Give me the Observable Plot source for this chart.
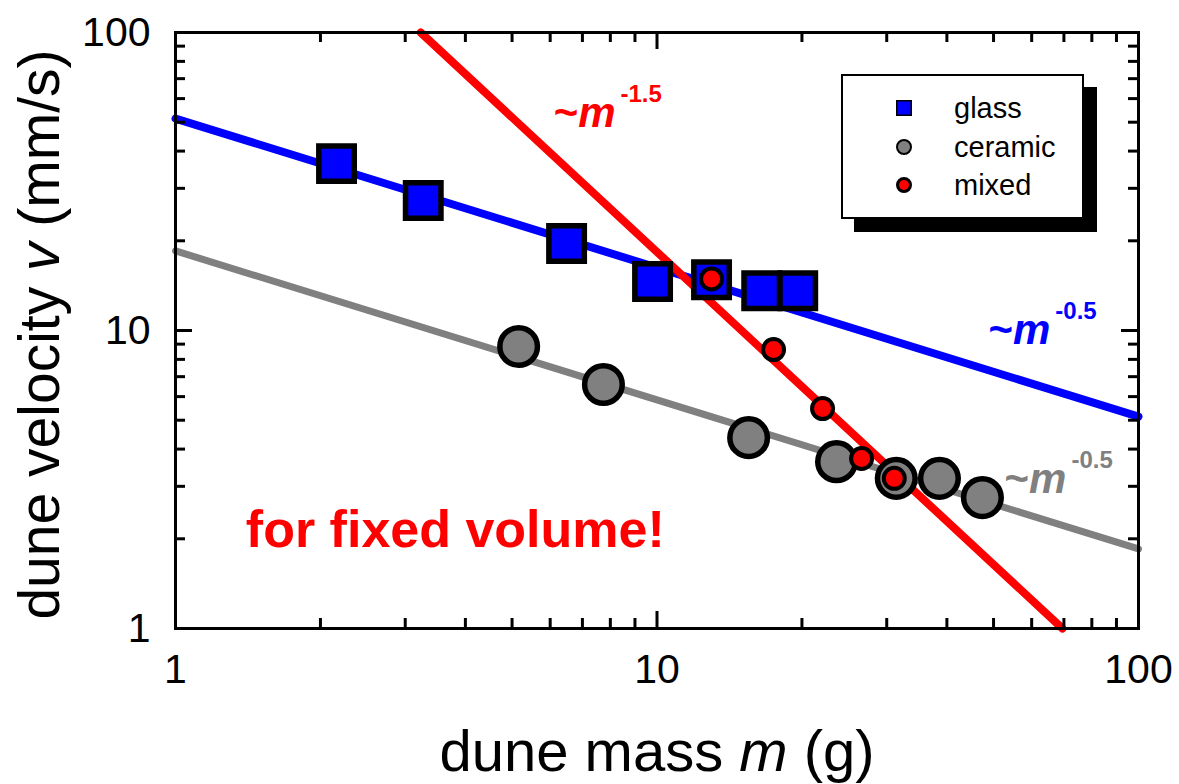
<!DOCTYPE html>
<html><head><meta charset="utf-8">
<script src="https://cdn.jsdelivr.net/npm/d3@7"></script>
<script src="https://cdn.jsdelivr.net/npm/@observablehq/plot@0.6"></script>
<style>
html,body{margin:0;padding:0;background:#fff;}
#wrap{position:relative;width:1179px;height:784px;font-family:"Liberation Sans",Arial,sans-serif;}
#legend{position:absolute;left:841px;top:74px;width:239px;height:141px;border:2px solid #000;background:#fff;box-shadow:13px 13px 0 #000;}
.row{position:absolute;left:0;height:30px;width:239px;}
.row svg{position:absolute;left:51px;top:5px;}
.row span{position:absolute;left:111px;top:0;line-height:30px;font-size:29px;color:#000;}
</style></head><body><div id="wrap"></div>
<script>
// ---- data ----
const glassMass   = [2.16, 3.27, 6.49, 9.79, 12.98, 16.5, 19.6];
const glassVel    = [36.3, 27.3, 19.6, 14.6, 14.8, 13.6, 13.6];
const ceramicMass = [5.16, 7.74, 15.5, 23.6, 31.4, 38.6, 47.4];
const ceramicVel  = [8.84, 6.59, 4.37, 3.63, 3.19, 3.19, 2.75];
const mixedMass   = [12.98, 17.46, 22.07, 26.6, 31.1];
const mixedVel    = [14.9, 8.63, 5.47, 3.72, 3.19];

// power-law fit lines (end points)
const glassFitMass   = [1, 100];
const glassFitVel    = [51.4, 5.14];
const ceramicFitMass = [1, 100];
const ceramicFitVel  = [18.5, 1.85];
const mixedFitMass   = [3.23, 69.5];
const mixedFitVel    = [100, 1];

// axes
const majorTicks = [1, 10, 100];
const minorTicks = [2,3,4,5,6,7,8,9,20,30,40,50,60,70,80,90];
const xTickLabels = ["1", "10", "100"];
const yTickLabels = ["1", "10", "100"];
const xTitleParts = [{text:"dune mass "}, {text:"m", italic:true}, {text:" (g)"}];
const yTitleParts = [{text:"dune velocity "}, {text:"v", italic:true}, {text:" (mm/s)"}];

// annotations
const annotations = [
  {m: 6.10, v: 48.0, exp: "-1.5", color: "#ff0000"},
  {m: 48.8, v: 9.04, exp: "-0.5", color: "#0000ff"},
  {m: 52.7, v: 2.86, exp: "-0.5", color: "#808080"}
];
const noteText = "for fixed volume!";
const notePos = {m: 1.40, v: 1.87};

const legendLabels = ["glass", "ceramic", "mixed"];

// ---- layout ----
const W = 1179, H = 784;
const mTop = 32, mRight = 41, mBottom = 156, mLeft = 175;
const frameW = W - mLeft - mRight;
const frameH = H - mTop - mBottom;
const majorLen = 17, minorLen = 10;

const zip = (ms, vs) => ms.map((m, i) => ({m, v: vs[i]}));
const glass = zip(glassMass, glassVel);
const ceramic = zip(ceramicMass, ceramicVel);
const mixed = zip(mixedMass, mixedVel);

function tickMarks(vals, len) {
  const o = {stroke: "#000", strokeWidth: 3};
  return [
    Plot.ruleX(vals, {x: d => d, insetTop: frameH - len, ...o}),
    Plot.ruleX(vals, {x: d => d, insetBottom: frameH - len, ...o}),
    Plot.ruleY(vals, {y: d => d, insetRight: frameW - len, ...o}),
    Plot.ruleY(vals, {y: d => d, insetLeft: frameW - len, ...o})
  ];
}

const joined = parts => parts.map(p => p.text).join("");
const annText = a => "~m" + a.exp;

const chart = Plot.plot({
  width: W, height: H,
  marginTop: mTop, marginRight: mRight, marginBottom: mBottom, marginLeft: mLeft,
  style: {fontFamily: "'Liberation Sans', Arial, sans-serif", color: "#000", background: "#fff", overflow: "visible"},
  x: {type: "log", domain: [1, 100], axis: null},
  y: {type: "log", domain: [1, 100], axis: null},
  marks: [
    Plot.line(zip(glassFitMass, glassFitVel), {x: "m", y: "v", stroke: "#0000ff", strokeWidth: 8}),
    Plot.line(zip(ceramicFitMass, ceramicFitVel), {x: "m", y: "v", stroke: "#808080", strokeWidth: 7}),
    Plot.line(zip(mixedFitMass, mixedFitVel), {x: "m", y: "v", stroke: "#ff0000", strokeWidth: 8}),
    Plot.dot(glass, {x: "m", y: "v", symbol: "square", r: 20, fill: "#0000ff", stroke: "#000", strokeWidth: 5.5}),
    Plot.dot(ceramic, {x: "m", y: "v", r: 18.8, fill: "#808080", stroke: "#000", strokeWidth: 5.5}),
    Plot.dot(mixed, {x: "m", y: "v", r: 10.5, fill: "#ff0000", stroke: "#000", strokeWidth: 4}),
    ...annotations.map(a => Plot.text([a], {
      x: "m", y: "v", text: annText, fill: a.color,
      textAnchor: "start", lineAnchor: "bottom", fontSize: 42, fontWeight: "bold"
    })),
    Plot.text([notePos], {x: "m", y: "v", text: () => noteText, fill: "#ff0000",
      textAnchor: "start", lineAnchor: "bottom", fontSize: 52, fontWeight: "bold"}),
    Plot.frame({stroke: "#000", strokeWidth: 3}),
    ...tickMarks(majorTicks, majorLen),
    ...tickMarks(minorTicks, minorLen),
    Plot.axisX(majorTicks, {anchor: "bottom", tickSize: 0, tickPadding: 25, fontSize: 41,
      tickFormat: d => xTickLabels[majorTicks.indexOf(d)], label: null}),
    Plot.axisY(majorTicks, {anchor: "left", tickSize: 0, tickPadding: 25, fontSize: 41,
      tickFormat: d => yTickLabels[majorTicks.indexOf(d)], label: null}),
    Plot.text([joined(xTitleParts)], {frameAnchor: "bottom", dy: 142, text: d => d,
      lineAnchor: "bottom", textAnchor: "middle", fontSize: 58, fill: "#000"}),
    Plot.text([joined(yTitleParts)], {frameAnchor: "left", dx: -117, dy: 4, text: d => d,
      rotate: -90, lineAnchor: "bottom", textAnchor: "middle", fontSize: 57, fill: "#000"})
  ]
});

const NS = "http://www.w3.org/2000/svg";
function setParts(textEl, parts) {
  while (textEl.firstChild) textEl.removeChild(textEl.firstChild);
  parts.forEach(p => {
    const ts = document.createElementNS(NS, "tspan");
    ts.textContent = p.text;
    if (p.italic) ts.setAttribute("font-style", "italic");
    if (p.dx != null) ts.setAttribute("dx", p.dx);
    if (p.dy != null) ts.setAttribute("dy", p.dy);
    if (p.size != null) ts.setAttribute("font-size", p.size);
    textEl.appendChild(ts);
  });
}
const annStrings = annotations.map(annText);
chart.querySelectorAll("text").forEach(t => {
  const s = t.textContent;
  if (s === joined(xTitleParts)) setParts(t, xTitleParts);
  else if (s === joined(yTitleParts)) setParts(t, yTitleParts);
  else if (annStrings.includes(s)) {
    setParts(t, [{text: "~"}, {text: "m", italic: true}, {text: s.slice(2), dx: 5, dy: -25, size: 24}]);
  }
});

const wrap = document.getElementById("wrap");
wrap.appendChild(chart);

// legend
const legend = document.createElement("div");
legend.id = "legend";
const rowCenters = [32, 71, 109];
const markerSvgs = [
  '<svg width="20" height="20"><rect x="2.75" y="2.75" width="14.5" height="14.5" fill="#0000ff" stroke="#000" stroke-width="1.5"/></svg>',
  '<svg width="20" height="20"><circle cx="10" cy="10" r="7" fill="#808080" stroke="#000" stroke-width="2"/></svg>',
  '<svg width="20" height="20"><circle cx="10" cy="10" r="6.5" fill="#ff0000" stroke="#000" stroke-width="3"/></svg>'
];
legendLabels.forEach((lab, i) => {
  const row = document.createElement("div");
  row.className = "row";
  row.style.top = (rowCenters[i] - 15) + "px";
  row.innerHTML = markerSvgs[i] + "<span>" + lab + "</span>";
  legend.appendChild(row);
});
wrap.appendChild(legend);
</script></body></html>
